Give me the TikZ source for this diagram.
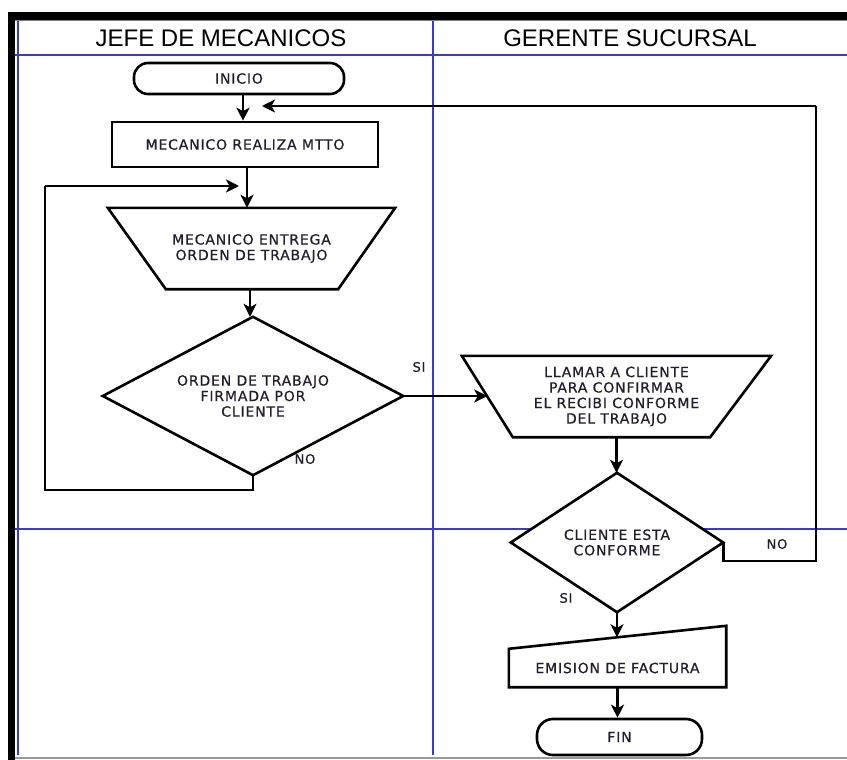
\documentclass[tikz,border=0pt]{standalone}
\usepackage{fontspec}
\setmainfont{DejaVu Sans}
\newfontfamily\hdrfont{Liberation Sans}
\newfontfamily\shapefont[LetterSpace=6,FakeBold=0.6]{DejaVu Sans}
\usetikzlibrary{arrows.meta,calc}
\definecolor{laneblue}{RGB}{60,60,195}
\definecolor{txtcol}{RGB}{35,30,45}
\begin{document}
\begin{tikzpicture}[x=1pt,y=-1pt,
  shp/.style={draw=black,line width=2.6pt,fill=white},
  box/.style={inner sep=0pt,align=center,text=txtcol,font=\shapefont\fontsize{14}{15.5}\selectfont},
  arr/.style={line width=2.6pt,-{Stealth[length=13pt,width=13pt,inset=3.5pt]}},
  lane/.style={draw=laneblue,line width=1.2pt},
  hdr/.style={font=\hdrfont\fontsize{24}{26}\selectfont,inner sep=0pt},
  lbl/.style={font=\shapefont\fontsize{13}{14}\selectfont,text=txtcol,inner sep=0pt}]
\useasboundingbox (0,0) rectangle (847,760);
\fill[white] (0,0) rectangle (847,760);
% lanes
\draw[lane] (18,21) -- (18,755);
\draw[lane] (433,21) -- (433,755);
\draw[lane] (15,55) -- (847,55);
\draw[lane] (15,529) -- (847,529);
% frame
\fill[black] (8,12) rectangle (15,760);
\fill[black] (8,12) rectangle (847,20);
\draw[gray,line width=1pt] (15,21) -- (847,21);
\draw[gray!80,line width=1.5pt] (15,758) -- (847,758);
% headers
\node[hdr] (h1) at (221,38) {JEFE DE MECANICOS};
\node[hdr] (h2) at (630,38) {GERENTE SUCURSAL};
% shapes
\node[box,shp,rounded corners=14pt,minimum width=210pt,minimum height=31pt] (inicio) at (239,78.5) {INICIO};
\node[box,shp,minimum width=266pt,minimum height=45pt] (mtto) at (245,144.5) {MECANICO REALIZA MTTO};
\node[box,minimum width=287pt,minimum height=81pt] (t1) at (251.5,248.5) {};
\draw[shp] (t1.north west) -- (t1.north east) -- ([xshift=-57pt]t1.south east) -- ([xshift=58pt]t1.south west) -- cycle;
\node[box] (t1txt) at (t1.center) {MECANICO ENTREGA\\ORDEN DE TRABAJO};
\node[box,minimum width=300pt,minimum height=158pt] (d1) at (253,396) {};
\draw[shp] (d1.north) -- (d1.east) -- (d1.south) -- (d1.west) -- cycle;
\node[box] (d1txt) at (d1.center) {ORDEN DE TRABAJO\\FIRMADA POR\\CLIENTE};
\node[box,minimum width=309pt,minimum height=81pt] (t2) at (616.5,396.5) {};
\draw[shp] (t2.north west) -- (t2.north east) -- ([xshift=-61pt]t2.south east) -- ([xshift=51pt]t2.south west) -- cycle;
\node[box] (t2txt) at (t2.center) {LLAMAR A CLIENTE\\PARA CONFIRMAR\\EL RECIBI CONFORME\\DEL TRABAJO};
\node[box,minimum width=212pt,minimum height=139pt] (d2) at (617,542.5) {};
\draw[shp] (d2.north) -- (d2.east) -- (d2.south) -- (d2.west) -- cycle;
\node[box] (d2txt) at (d2.center) {CLIENTE ESTA\\CONFORME};
\node[box,minimum width=217pt,minimum height=38pt] (fact) at (617.5,668) {};
\draw[shp] (fact.south west) -- (fact.north west) -- ([yshift=23pt]fact.north east) -- (fact.south east) -- cycle;
\node[box] (facttxt) at (fact.center) {EMISION DE FACTURA};
\node[box,shp,rounded corners=16pt,minimum width=165pt,minimum height=36pt] (fin) at (619.5,737) {FIN};
% connectors
\coordinate (a1) at ([xshift=4pt]inicio.south);
\draw[arr] (a1) -- (a1 |- mtto.north);
\coordinate (a2) at ([xshift=2pt]mtto.south);
\draw[arr] (a2) -- (a2 |- t1.north);
\coordinate (a3) at ([xshift=-1.5pt]t1.south);
\draw[arr] (a3) -- (a3 |- d1.north);
\coordinate (loopL) at (45,490);
\coordinate (loopin) at (239,186);
\draw[line width=2.6pt] (d1.south) |- (loopL) -- (loopL |- loopin);
\draw[arr] (loopL |- loopin) -- (loopin);
\coordinate (t2in) at ($(t2.north west)!0.5!([xshift=51pt]t2.south west)$);
\draw[arr] (d1.east) -- (d1.east -| t2in);
\draw[arr] (t2.south) -- (t2.south |- d2.north);
\coordinate (nr) at (816,561);
\coordinate (topin) at (262,106);
\draw[line width=2.6pt] (d2.east) |- (nr) -- (nr |- topin);
\draw[arr] (nr |- topin) -- (topin);
\coordinate (fin1) at ($(fact.north west)!0.5!([yshift=23pt]fact.north east)$);
\draw[arr] (d2.south) -- (d2.south |- fin1);
\draw[arr] (fact.south) -- (fact.south |- fin.north);
% labels
\node[lbl] (si1) at (419,367) {SI};
\node[lbl] (no1) at (305,459) {NO};
\node[lbl] (no2) at (777,544) {NO};
\node[lbl] (si2) at (566,598) {SI};
\end{tikzpicture}
\end{document}
